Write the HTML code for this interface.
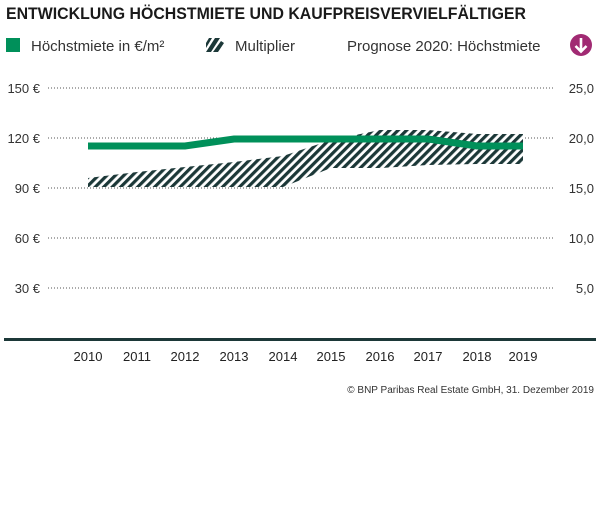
<!DOCTYPE html>
<html><head><meta charset="utf-8"><style>
body{margin:0;width:600px;height:518px;background:#fff;overflow:hidden;font-family:"Liberation Sans",sans-serif;}
</style></head><body>
<svg width="600" height="518" xmlns="http://www.w3.org/2000/svg" font-family="Liberation Sans, sans-serif">
<defs>
<pattern id="h" patternUnits="userSpaceOnUse" width="6" height="6" patternTransform="rotate(45)">
<rect width="6" height="6" fill="#fff"/><rect width="3.2" height="6" fill="#1c3838"/>
</pattern>
</defs>
<text x="6" y="19" font-size="17" font-weight="bold" fill="#1a1a1a" textLength="520" lengthAdjust="spacingAndGlyphs">ENTWICKLUNG HÖCHSTMIETE UND KAUFPREISVERVIELFÄLTIGER</text>
<rect x="6" y="38" width="14" height="14" fill="#00905a"/>
<text x="31" y="51" font-size="15" fill="#333">Höchstmiete in €/m²</text>
<g transform="translate(206,38)"><polygon points="0,14 5,14 14,0 9,0" fill="#1c3838"/><polygon points="7,14 12,14 18,5 15,3" fill="#1c3838"/><polygon points="0,10 6,0 3,0 0,5" fill="#1c3838"/></g>
<text x="235" y="51" font-size="15" fill="#333">Multiplier</text>
<text x="347" y="51" font-size="15" fill="#333">Prognose 2020: Höchstmiete</text>
<circle cx="581" cy="45" r="11" fill="#a12a73"/>
<path d="M581 38 V51 M575.5 46 L581 51.5 L586.5 46" stroke="#fff" stroke-width="2.6" fill="none"/>
<g stroke="#555" stroke-width="1" stroke-dasharray="1,2">
<line x1="48" y1="88" x2="555" y2="88"/><line x1="48" y1="138" x2="555" y2="138"/>
<line x1="48" y1="188" x2="555" y2="188"/><line x1="48" y1="238" x2="555" y2="238"/>
<line x1="48" y1="288" x2="555" y2="288"/>
</g>
<g font-size="13" fill="#333" text-anchor="end">
<text x="40" y="93">150 €</text><text x="40" y="143">120 €</text><text x="40" y="193">90 €</text><text x="40" y="243">60 €</text><text x="40" y="293">30 €</text>
</g>
<g font-size="13" fill="#333" text-anchor="end">
<text x="594" y="93">25,0</text><text x="594" y="143">20,0</text><text x="594" y="193">15,0</text><text x="594" y="243">10,0</text><text x="594" y="293">5,0</text>
</g>
<polygon fill="url(#h)" points="88,178 137,172 185,167 234,162 283,156 331,140 380,130 428,130 477,134 523,134 523,164 477,164 428,165 380,168 331,168 283,187 234,187 185,187 137,187 88,187"/>
<polyline fill="none" stroke="#00905a" stroke-width="7" points="88,146 185,146 234,139 331,139 428,139 477,146 523,146"/>
<rect x="4" y="338" width="592" height="3" fill="#1c3838"/>
<g font-size="13" fill="#222" text-anchor="middle">
<text x="88" y="361">2010</text><text x="137" y="361">2011</text><text x="185" y="361">2012</text><text x="234" y="361">2013</text><text x="283" y="361">2014</text><text x="331" y="361">2015</text><text x="380" y="361">2016</text><text x="428" y="361">2017</text><text x="477" y="361">2018</text><text x="523" y="361">2019</text>
</g>
<text x="594" y="393" font-size="10" fill="#333" text-anchor="end">© BNP Paribas Real Estate GmbH, 31. Dezember 2019</text>
</svg>
</body></html>
